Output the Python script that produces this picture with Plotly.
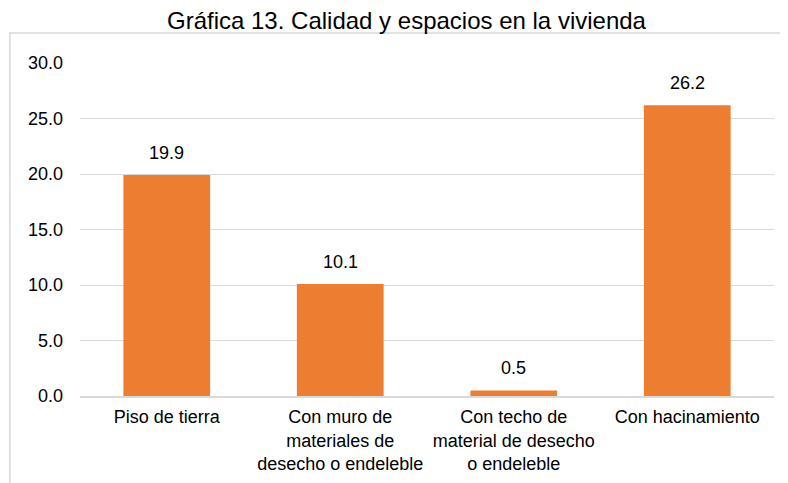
import plotly.graph_objects as go

categories = [
    "Piso de tierra",
    "Con muro de<br>materiales de<br>desecho o endeleble",
    "Con techo de<br>material de desecho<br>o endeleble",
    "Con hacinamiento",
]
values = [19.9, 10.1, 0.5, 26.2]
value_labels = ["19.9", "10.1", "0.5", "26.2"]
y_ticks = [0, 5, 10, 15, 20, 25, 30]
y_tick_labels = ["0.0", "5.0", "10.0", "15.0", "20.0", "25.0", "30.0"]
title_text = "Gráfica 13. Calidad y espacios en la vivienda"

font_family = "Liberation Sans, Arial, sans-serif"

# page body has an 8px default margin, so the figure is sized to fit inside
W, H = 780, 475
L, R, T, B = 72, 14, 55, 87
PW, PH = W - L - R, H - T - B

fig = go.Figure()
fig.add_trace(go.Bar(
    x=categories,
    y=values,
    marker=dict(color="#ED7D31", line=dict(width=0)),
    hoverinfo="skip",
))

for c, v, t in zip(categories, values, value_labels):
    fig.add_annotation(
        x=c, y=v, text=t, showarrow=False,
        yanchor="bottom", yshift=10,
        font=dict(family=font_family, size=18, color="#000000"),
    )

# chart title as a paper annotation (centre ~ x 399, y 13 in figure pixels)
fig.add_annotation(
    xref="paper", yref="paper",
    x=(399 - L) / PW, y=(H - B - 13) / PH,
    xanchor="center", yanchor="middle",
    text=title_text, showarrow=False,
    font=dict(family=font_family, size=24, color="#000000"),
)

# outer chart border (left and top visible)
fig.add_shape(
    type="rect", xref="paper", yref="paper",
    x0=-0.101, x1=1.05, y0=-0.35, y1=1.09,
    line=dict(color="#d9d9d9", width=1.5),
    fillcolor="rgba(0,0,0,0)", layer="below",
)

fig.update_layout(
    width=W, height=H,
    margin=dict(l=L, r=R, t=T, b=B, autoexpand=False),
    paper_bgcolor="white", plot_bgcolor="white",
    bargap=0.5,
    showlegend=False,
    font=dict(family=font_family, size=18, color="#000000"),
)
fig.update_yaxes(
    range=[0, 30], tickvals=y_ticks, ticktext=y_tick_labels,
    showgrid=True, gridcolor="#d9d9d9", gridwidth=1,
    zeroline=False, showline=False, ticks="",
    ticklabelstandoff=16, automargin=False,
    tickfont=dict(family=font_family, size=18, color="#000000"),
)
fig.update_xaxes(
    showline=True, linecolor="#d9d9d9", linewidth=1.5,
    ticks="", ticklabelstandoff=4, automargin=False,
    tickfont=dict(family=font_family, size=18, color="#000000"),
)

fig.write_html("out.html")
